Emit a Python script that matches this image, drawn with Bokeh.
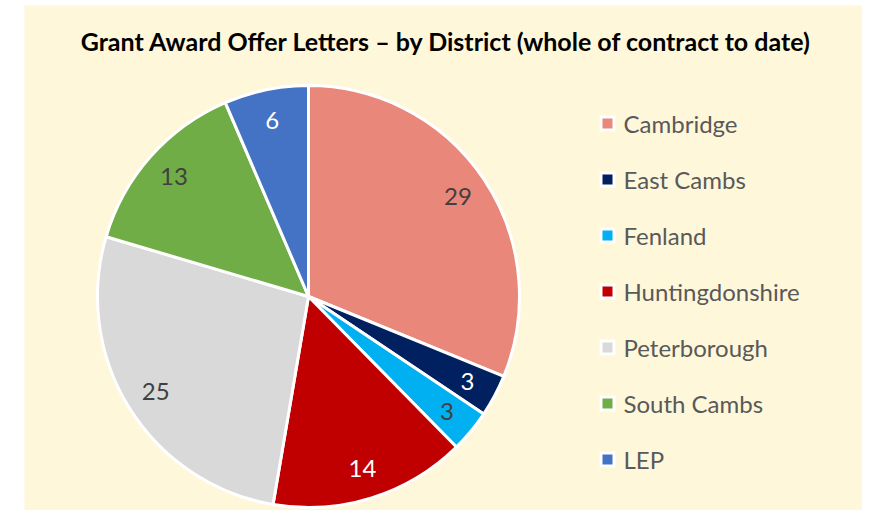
import math
from bokeh.plotting import figure
from bokeh.models import Range1d, ColumnDataSource
from bokeh.core.properties import value
from bokeh.embed import file_html
from bokeh.resources import INLINE

# ---- data ----
title_text = "Grant Award Offer Letters \u2013 by District (whole of contract to date)"
districts = ["Cambridge", "East Cambs", "Fenland", "Huntingdonshire", "Peterborough", "South Cambs", "LEP"]
offers = [29, 3, 3, 14, 25, 13, 6]

# ---- styles ----
slice_colors = ["#E8877A", "#002060", "#00B0F0", "#C00000", "#D9D9D9", "#70AD47", "#4472C4"]
label_colors = ["#404040", "#FFFFFF", "#404040", "#FFFFFF", "#404040", "#404040", "#FFFFFF"]
FONT = "Lato"
W, H = 862, 510
REF_H = 526  # picture pixel -> data y = REF_H - pixel_y

p = figure(width=W, height=H, output_backend="svg", toolbar_location=None,
           x_range=Range1d(0, W), y_range=Range1d(REF_H - H, REF_H),
           min_border=0, outline_line_color=None)
p.axis.visible = False
p.grid.visible = False
p.background_fill_color = "white"
p.border_fill_color = "white"

def py(y):
    return REF_H - y

# cream chart area
p.quad(left=[24], right=[868], bottom=[py(530)], top=[py(5)],
       fill_color="#FFF7D9", line_color=None)

# title
p.text(x=[446], y=[py(40)], text=[title_text], text_font=value(FONT),
       text_font_style="bold", text_font_size=value("25px"), text_color="#000000",
       text_align="center", text_baseline="middle")

# pie
cx, cy, R = 308, py(296), 211
total = float(sum(offers))
starts, ends, lx, ly = [], [], [], []
cum = 0.0
for v in offers:
    a0 = math.pi / 2 - 2 * math.pi * cum / total
    a1 = math.pi / 2 - 2 * math.pi * (cum + v) / total
    starts.append(a0)
    ends.append(a1)
    mid = (a0 + a1) / 2
    lx.append(cx + 180 * math.cos(mid))
    ly.append(cy + 180 * math.sin(mid))
    cum += v

src = ColumnDataSource(dict(start=starts, end=ends, color=slice_colors,
                            lx=lx, ly=ly, txt=[str(v) for v in offers], tc=label_colors))
p.wedge(x=cx, y=cy, radius=R, start_angle="start", end_angle="end", direction="clock",
        fill_color="color", line_color="white", line_width=3, source=src)
p.text(x="lx", y="ly", text="txt", text_color="tc", text_font=value(FONT),
       text_font_size=value("24px"), text_align="center", text_baseline="middle", source=src)

# legend
leg_y = [py(123 + 56 * i) for i in range(len(districts))]
leg = ColumnDataSource(dict(y=leg_y, name=districts, color=slice_colors))
p.rect(x=607, y="y", width=16, height=16, fill_color="white", line_color=None, source=leg)
p.rect(x=607, y="y", width=10, height=10, fill_color="color", line_color=None, source=leg)
p.text(x=623, y="y", text="name", text_font=value(FONT), text_font_size=value("24px"),
       text_color="#595959", text_align="left", text_baseline="middle", source=leg)

open("out.html", "w").write(file_html(p, INLINE))
